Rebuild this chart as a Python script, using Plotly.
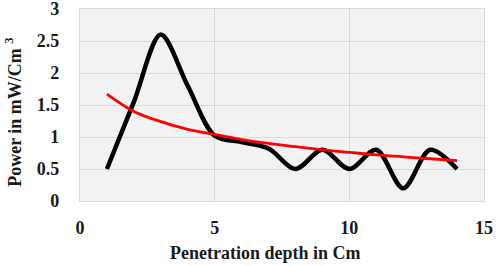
import plotly.graph_objects as go

depth = [1, 2, 3, 4, 5, 6, 7, 8, 9, 10, 11, 12, 13, 14]
power = [0.5, 1.55, 2.6, 1.8, 1.02, 0.92, 0.82, 0.5, 0.8, 0.5, 0.8, 0.2, 0.8, 0.5]
trend = [1.67, 1.40, 1.24, 1.12, 1.04, 0.96, 0.90, 0.85, 0.80, 0.76, 0.72, 0.69, 0.66, 0.63]

x_ticks = [0, 5, 10, 15]
y_ticks = [0, 0.5, 1, 1.5, 2, 2.5, 3]
y_tick_text = ["0", "0.5", "1", "1.5", "2", "2.5", "3"]

FAM = "Liberation Serif"
tickfont = dict(family=FAM, size=18, color="#1a1a1a", weight="bold")
GRID = "#d9d9d9"

fig = go.Figure()
fig.add_trace(go.Scatter(x=depth, y=power, mode="lines",
                         line=dict(color="black", width=4.5, shape="spline", smoothing=0.9),
                         showlegend=False))
fig.add_trace(go.Scatter(x=depth, y=trend, mode="lines",
                         line=dict(color="#ff0000", width=2.8, shape="spline"),
                         showlegend=False))

fig.update_layout(
    width=496, height=266,
    margin=dict(l=80, r=12, t=9, b=65),
    paper_bgcolor="white", plot_bgcolor="#f2f2f2",
    xaxis=dict(range=[0, 15], tickvals=x_ticks, showgrid=True, gridcolor=GRID, gridwidth=1.3,
               zeroline=False, showline=True, linecolor=GRID, linewidth=1.3, mirror=True,
               ticks="", ticklabelstandoff=10, ticklabeloverflow="allow",
               automargin=False, tickfont=tickfont),
    yaxis=dict(range=[0, 3], tickvals=y_ticks, ticktext=y_tick_text, showgrid=True,
               gridcolor=GRID, gridwidth=1.3, zeroline=False, showline=True, linecolor=GRID,
               linewidth=1.3, mirror=True, ticks="", ticklabelstandoff=16,
               ticklabeloverflow="allow", automargin=False, tickfont=tickfont),
    annotations=[
        dict(text="<b>Penetration depth in Cm</b>", xref="paper", yref="paper",
             x=0.458, y=-0.271, xanchor="center", yanchor="middle", showarrow=False,
             font=dict(family=FAM, size=18, color="#1a1a1a")),
        dict(text="<b>Power in mW/Cm <sup>3</sup></b>", xref="paper", yref="paper",
             x=-0.163, y=0.46, xanchor="center", yanchor="middle", showarrow=False,
             textangle=-90, font=dict(family=FAM, size=18, color="#1a1a1a")),
    ],
)
fig.write_html("out.html", config={"displayModeBar": False},
               post_script="document.body.style.margin='0';document.body.style.overflow='hidden';")
